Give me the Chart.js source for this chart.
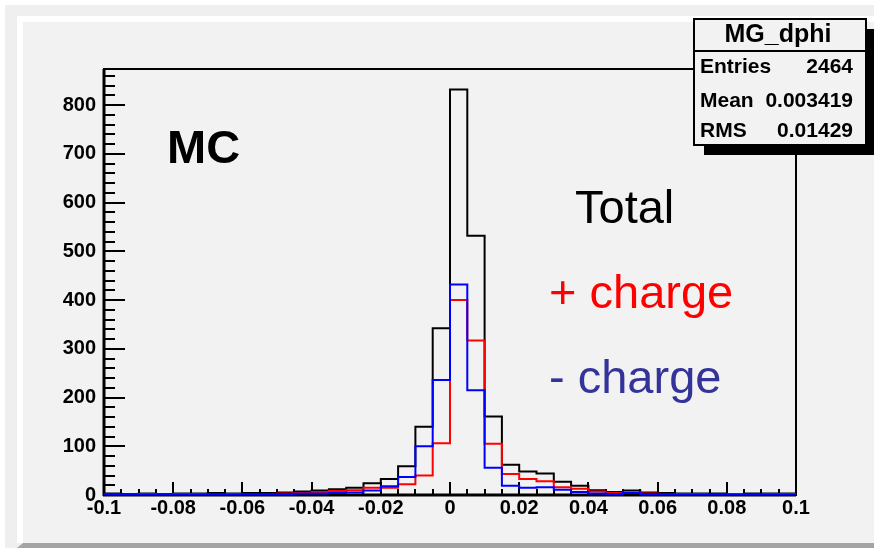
<!DOCTYPE html>
<html><head><meta charset="utf-8">
<script src="https://cdn.jsdelivr.net/npm/chart.js@4.4.0/dist/chart.umd.min.js"></script>
<style>html,body{margin:0;padding:0;background:#fff;overflow:hidden}canvas{display:block}</style>
</head><body>
<canvas id="c" width="874" height="548"></canvas>
<script>
// ---- data ----
const binLowEdges = [-0.1,-0.095,-0.09,-0.085,-0.08,-0.075,-0.07,-0.065,-0.06,-0.055,
  -0.05,-0.045,-0.04,-0.035,-0.03,-0.025,-0.02,-0.015,-0.01,-0.005,
  0,0.005,0.01,0.015,0.02,0.025,0.03,0.035,0.04,0.045,
  0.05,0.055,0.06,0.065,0.07,0.075,0.08,0.085,0.09,0.095];
const xMin = -0.1, xMax = 0.1;
const totalCounts = [3,2,3,2,3,3,4,3,4,4,
  5,7,9,12,15,24,33,59,140,342,
  832,532,161,62,48,44,27,19,10,6,
  9,5,4,3,3,3,2,3,3,3];
const plusCounts = [1,1,2,1,2,2,2,2,2,2,
  3,4,6,8,10,15,15,22,40,106,
  400,317,105,43,33,28,16,13,7,4,
  5,3,2,2,2,1,2,1,2,2];
const minusCounts = [2,1,1,1,1,1,2,1,2,2,
  2,3,3,4,5,9,18,37,100,236,
  432,215,56,19,15,16,11,6,3,2,
  4,2,2,1,1,2,1,2,1,1];
const yMax = 874;
const xTickValues = [-0.1,-0.08,-0.06,-0.04,-0.02,0,0.02,0.04,0.06,0.08,0.1];
const xTickLabels = ["-0.1","-0.08","-0.06","-0.04","-0.02","0","0.02","0.04","0.06","0.08","0.1"];
const yTickValues = [0,100,200,300,400,500,600,700,800];
const yTickLabels = ["0","100","200","300","400","500","600","700","800"];
const statsTitle = "MG_dphi";
const statsNames = ["Entries","Mean","RMS"];
const statsValues = ["2464","0.003419","0.01429"];
const labelTexts = ["MC","Total","+ charge","- charge"];

// ---- build step data ----
function stepData(counts){
  const pts = binLowEdges.map((x,i)=>({x:x, y:counts[i]}));
  pts.push({x:xMax, y:counts[counts.length-1]});
  return pts;
}
const FONT = "'Liberation Sans', Arial, Helvetica, sans-serif";

const rootPlugin = {
  id: 'rootStyle',
  beforeDraw(chart){
    const ctx = chart.ctx;
    ctx.save();
    ctx.fillStyle = '#ffffff'; ctx.fillRect(0,0,874,548);
    ctx.fillStyle = '#efefef'; ctx.fillRect(5,5,869,543);
    ctx.fillStyle = '#ffffff';
    ctx.fillRect(17,16,857,6);
    ctx.fillRect(17,16,6,527);
    ctx.fillStyle = '#a4a4a4';
    ctx.beginPath(); ctx.moveTo(17,548); ctx.lineTo(23,543); ctx.lineTo(874,543); ctx.lineTo(874,548); ctx.closePath(); ctx.fill();
    ctx.fillStyle = '#f2f2f2'; ctx.fillRect(23,22,851,521);
    ctx.restore();
  },
  beforeDatasetsDraw(chart){
    const ctx = chart.ctx, a = chart.chartArea;
    const xs = chart.scales.x, ys = chart.scales.y;
    ctx.save();
    ctx.strokeStyle = '#000';
    ctx.lineWidth = 2;
    ctx.strokeRect(a.left, a.top, a.right-a.left, a.bottom-a.top);
    ctx.lineWidth = 3;
    ctx.beginPath();
    ctx.moveTo(a.left, a.top); ctx.lineTo(a.left, a.bottom+1);
    ctx.moveTo(a.left-1, a.bottom); ctx.lineTo(a.right, a.bottom);
    ctx.stroke();
    ctx.lineWidth = 2;
    ctx.beginPath();
    for (let v = 0; v <= yMax; v += 20){
      const py = Math.round(ys.getPixelForValue(v));
      const len = (v % 100 === 0) ? 21 : 11;
      ctx.moveTo(a.left, py); ctx.lineTo(a.left+len, py);
    }
    for (let i = 0; i <= 40; i++){
      const v = xMin + i*0.005;
      const px = Math.round(xs.getPixelForValue(v));
      const len = (i % 4 === 0) ? 13 : 6;
      ctx.moveTo(px, a.bottom); ctx.lineTo(px, a.bottom-len);
    }
    ctx.stroke();
    ctx.restore();
  },
  afterDatasetsDraw(chart){
    const ctx = chart.ctx;
    ctx.save();
    ctx.textBaseline = 'alphabetic';
    ctx.textAlign = 'left';
    ctx.fillStyle = '#000';
    ctx.font = "bold 47px " + FONT;
    ctx.fillText(labelTexts[0], 167, 163);
    ctx.font = "47px " + FONT;
    ctx.fillText(labelTexts[1], 575, 223);
    ctx.fillStyle = '#ff0000';
    ctx.fillText(labelTexts[2], 549, 308);
    ctx.fillStyle = '#333399';
    ctx.fillText(labelTexts[3], 549, 393);
    ctx.restore();
  },
  afterDraw(chart){
    const ctx = chart.ctx;
    ctx.save();
    ctx.fillStyle = '#000';
    ctx.fillRect(704, 29, 172, 126);
    ctx.fillStyle = '#f2f2f2';
    ctx.fillRect(694, 19, 172, 126);
    ctx.strokeStyle = '#000'; ctx.lineWidth = 2;
    ctx.strokeRect(694, 19, 172, 126);
    ctx.beginPath(); ctx.moveTo(694, 51); ctx.lineTo(866, 51); ctx.stroke();
    ctx.fillStyle = '#000';
    ctx.textBaseline = 'alphabetic';
    ctx.font = "bold 25px " + FONT;
    ctx.textAlign = 'center';
    ctx.fillText(statsTitle, 778, 42);
    ctx.font = "bold 21px " + FONT;
    const rowsY = [73, 107, 137];
    for (let i = 0; i < statsNames.length; i++){
      ctx.textAlign = 'left';
      ctx.fillText(statsNames[i], 700, rowsY[i]);
      ctx.textAlign = 'right';
      ctx.fillText(statsValues[i], 853, rowsY[i]);
    }
    ctx.restore();
  }
};

new Chart(document.getElementById('c'), {
  type: 'line',
  data: {
    datasets: [
      {label:'Total', data: stepData(totalCounts), borderColor:'#000000', order:3},
      {label:'+ charge', data: stepData(plusCounts), borderColor:'#ff0000', order:2},
      {label:'- charge', data: stepData(minusCounts), borderColor:'#0000ff', order:1}
    ].map(d => Object.assign(d, {stepped:'before', borderWidth:2, pointRadius:0, fill:false, tension:0}))
  },
  options: {
    responsive: false,
    devicePixelRatio: 1,
    animation: false,
    layout: {padding: {left:0, top:69, right:78, bottom:0}},
    plugins: {legend:{display:false}, tooltip:{enabled:false}, title:{display:false}},
    scales: {
      x: {
        type: 'linear', min: xMin, max: xMax,
        grid: {display:false, drawTicks:false},
        border: {display:false},
        afterFit: s => { s.height = 53; },
        afterBuildTicks: s => { s.ticks = xTickValues.map(v => ({value:v})); },
        ticks: {
          autoSkip:false, maxRotation:0, minRotation:0, padding:1,
          color:'#000', font:{family:FONT, weight:'bold', size:20},
          callback: (v, i) => xTickLabels[i]
        }
      },
      y: {
        type: 'linear', min: 0, max: yMax,
        grid: {display:false, drawTicks:false},
        border: {display:false},
        afterFit: s => { s.width = 104; },
        afterBuildTicks: s => { s.ticks = yTickValues.map(v => ({value:v})); },
        ticks: {
          padding: 8, color:'#000', font:{family:FONT, weight:'bold', size:20},
          callback: (v, i) => yTickLabels[i]
        }
      }
    }
  },
  plugins: [rootPlugin]
});
</script>
</body></html>
